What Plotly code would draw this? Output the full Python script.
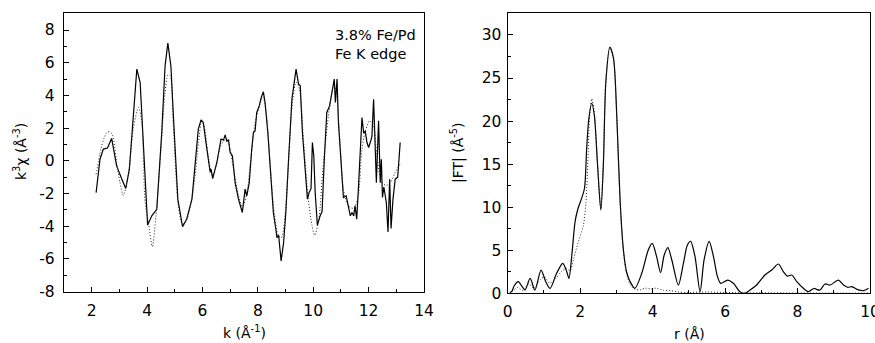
import plotly.graph_objects as go

# ---- k-space EXAFS: experiment (solid) and fit (dotted) ----
k_exp = [2.16, 2.30, 2.42, 2.57, 2.72, 2.90, 3.09, 3.23, 3.36, 3.50, 3.63, 3.75, 3.87, 4.02, 4.17,
         4.35, 4.53, 4.65, 4.75, 4.86, 4.95, 5.11, 5.28, 5.43, 5.62, 5.75, 5.85, 5.95, 6.03, 6.16,
         6.28, 6.31, 6.37, 6.52, 6.67, 6.76, 6.82, 6.88, 6.94, 7.00, 7.08, 7.18, 7.30, 7.44, 7.54,
         7.60, 7.69, 7.78, 7.84, 7.90, 7.96, 8.05, 8.12, 8.20, 8.26, 8.36, 8.48, 8.56, 8.65, 8.69,
         8.75, 8.84, 8.93, 9.01, 9.11, 9.23, 9.33, 9.38, 9.47, 9.53, 9.61, 9.71, 9.79, 9.85, 9.92,
         9.97, 10.02, 10.07, 10.15, 10.25, 10.32, 10.40, 10.49, 10.59, 10.68, 10.76, 10.80, 10.86,
         10.91, 11.00, 11.09, 11.19, 11.24, 11.34, 11.40, 11.46, 11.51, 11.57, 11.63, 11.70, 11.76,
         11.82, 11.88, 11.94, 12.00, 12.06, 12.12, 12.18, 12.22, 12.28, 12.36, 12.42, 12.46, 12.50,
         12.55, 12.64, 12.70, 12.76, 12.81, 12.88, 12.96, 13.05, 13.08, 13.14]
chi_exp = [-1.94, 0.10, 0.72, 0.78, 1.37, -0.31, -1.12, -1.69, -0.51, 2.75, 5.61, 4.79, 0.72, -3.93, -3.36,
           -2.96, 1.73, 5.81, 7.20, 5.81, 2.75, -2.34, -4.02, -3.57, -2.34, 0.00, 1.94, 2.51, 2.34, 0.72,
           -0.71, -0.51, -1.08, -0.10, 1.33, 1.27, 1.59, 1.20, 1.30, 0.51, 0.31, -1.33, -2.34, -3.16, -1.73,
           -2.14, -1.33, 0.72, 1.73, 1.83, 2.96, 3.36, 3.87, 4.22, 3.57, 1.73, -0.92, -3.16, -4.18, -4.69,
           -4.55, -6.12, -5.00, -3.16, 0.10, 3.77, 5.00, 5.61, 4.69, 4.60, 1.73, -0.31, -2.34, -1.94, -1.70,
           1.12, 0.31, -1.94, -3.93, -3.36, -3.10, 0.10, 2.96, 3.36, 4.18, 5.00, 3.57, 5.00,
           2.34, 0.31, -2.24, -2.14, -2.50, -3.36, -3.16, -3.36, -2.75, -3.57, -1.73, 0.72, 2.65,
           1.73, 1.80, 1.12, 0.82, 1.12, 1.50, 3.77, 1.94, -1.33, 2.45, -1.33, 0.10, -2.24,
           -1.60, -2.55, -4.35, -1.12, -4.14, -2.34, -1.12, -1.00, -0.31, 1.12]

k_fit = [2.16, 2.33, 2.45, 2.57, 2.72, 2.90, 3.02, 3.14, 3.32, 3.50, 3.69, 3.81, 3.93, 4.05, 4.19, 4.32,
         4.47, 4.65, 4.75, 4.83, 4.95, 5.13, 5.28, 5.43, 5.67, 5.86, 5.97, 6.05, 6.20, 6.35, 6.50, 6.65,
         6.80, 6.95, 7.10, 7.30, 7.45, 7.60, 7.75, 7.90, 8.05, 8.18, 8.30, 8.45, 8.60, 8.75, 8.85, 9.00,
         9.12, 9.25, 9.38, 9.50, 9.65, 9.80, 9.95, 10.05, 10.20, 10.35, 10.55, 10.74, 10.82, 10.97, 11.09,
         11.27, 11.46, 11.62, 11.76, 11.88, 12.04, 12.18, 12.30, 12.48, 12.64, 12.80, 12.96, 13.14]
chi_fit = [-0.82, 0.72, 1.40, 1.77, 1.69, -0.10, -1.30, -2.10, -0.92, 1.94, 3.26, 2.34, -2.55, -3.77, -5.24, -3.36,
           -0.10, 4.18, 5.24, 5.20, 2.14, -2.75, -3.87, -3.60, -1.73, 1.12, 2.40, 2.20, 0.40, -0.90, -0.30, 0.90,
           1.25, 1.00, -0.30, -2.10, -2.80, -2.00, 0.20, 2.30, 3.30, 3.90, 3.00, -0.30, -3.30, -4.60, -4.70, -3.00,
           0.30, 3.60, 4.80, 4.40, 1.20, -2.00, -3.90, -4.55, -3.60, -0.50, 2.75, 4.60, 4.30, 1.12, -1.73,
           -2.75, -2.90, -2.20, 0.70, 1.80, 2.45, 2.10, 0.30, -1.33, -1.50, -1.30, -0.70, -0.20]

# ---- Fourier transform magnitude: experiment (solid) and fit (dotted) ----
r_exp = [0.06, 0.11, 0.18, 0.29, 0.40, 0.48, 0.62, 0.75, 0.92, 1.05, 1.17, 1.35, 1.52, 1.63, 1.69, 1.77,
         1.86, 1.93, 2.04, 2.12, 2.18, 2.24, 2.32, 2.39, 2.48, 2.57, 2.64, 2.71, 2.82, 2.92, 3.01, 3.10,
         3.19, 3.28, 3.38, 3.51, 3.70, 3.88, 3.99, 4.11, 4.22, 4.32, 4.42, 4.53, 4.71, 4.85, 4.96, 5.05,
         5.17, 5.31, 5.42, 5.56, 5.68, 5.79, 5.88, 6.07, 6.23, 6.41, 6.55, 6.69, 6.87, 7.10, 7.29, 7.47,
         7.61, 7.72, 7.84, 7.98, 8.16, 8.30, 8.46, 8.53, 8.62, 8.76, 8.90, 9.13, 9.27, 9.38, 9.50, 9.64,
         9.82, 9.96]
ft_exp = [0.10, 0.19, 0.88, 1.35, 0.77, 0.38, 1.74, 0.38, 2.70, 1.35, 0.58, 2.32, 3.48, 2.51, 1.74, 4.45,
          8.32, 9.67, 11.03, 12.20, 16.84, 20.30, 22.07, 20.70, 14.90, 9.67, 14.90, 24.60, 28.60, 27.30, 20.70, 11.00,
          5.20, 2.50, 1.35, 0.58, 2.32, 5.03, 5.80, 4.25, 2.40, 4.45, 5.30, 3.87, 0.96, 3.48, 5.60, 6.04,
          4.25, 0.19, 3.87, 6.04, 4.25, 1.93, 1.16, 1.54, 1.16, 0.19, 0.00, 0.38, 0.96, 2.12, 2.70, 3.40,
          2.50, 2.00, 2.12, 1.35, 0.58, 0.19, 0.58, 0.45, 0.38, 1.08, 0.96, 1.54, 0.96, 0.70, 0.77, 0.46,
          0.30, 0.58]

r_fit = [0.06, 0.15, 0.28, 0.42, 0.58, 0.72, 0.90, 1.02, 1.15, 1.32, 1.48, 1.62, 1.72, 1.82, 1.95, 2.09,
         2.16, 2.22, 2.26, 2.32, 2.39, 2.48, 2.57, 2.64, 2.71, 2.82, 2.92, 3.01, 3.10, 3.19, 3.28, 3.38,
         3.50, 3.65, 3.80, 3.95, 4.10, 4.30, 4.50, 4.70, 5.00, 5.50, 6.00, 6.50, 7.00, 8.00, 9.00, 10.00]
ft_fit = [0.05, 0.30, 0.70, 0.30, 1.10, 0.60, 1.60, 1.90, 1.20, 1.70, 2.50, 2.90, 2.60, 4.00, 6.00, 7.90,
          10.60, 16.00, 20.50, 22.60, 21.00, 15.00, 9.80, 15.20, 24.80, 28.50, 27.20, 20.50, 10.80, 5.00, 2.30, 1.00,
          0.50, 0.40, 0.60, 0.50, 0.60, 0.35, 0.30, 0.15, 0.10, 0.15, 0.10, 0.05, 0.05, 0.03, 0.02, 0.02]

# tick positions and their printed labels
k_ticks = [2, 4, 6, 8, 10, 12, 14]
chi_ticks = [-8, -6, -4, -2, 0, 2, 4, 6, 8]
r_ticks = [0, 2, 4, 6, 8, 10]
ft_ticks = [0, 5, 10, 15, 20, 25, 30]

FONT = "DejaVu Sans, Verdana, sans-serif"
W, H = 875, 343

DOT = "1px,2px"

fig = go.Figure()
fig.add_trace(go.Scatter(x=k_exp, y=chi_exp, mode="lines", line=dict(color="black", width=1.2),
                         xaxis="x", yaxis="y", showlegend=False))
fig.add_trace(go.Scatter(x=k_fit, y=chi_fit, mode="lines",
                         line=dict(color="#222", width=1, dash=DOT, shape="spline", smoothing=0.8),
                         xaxis="x", yaxis="y", showlegend=False))
fig.add_trace(go.Scatter(x=r_exp, y=ft_exp, mode="lines",
                         line=dict(color="black", width=1.2, shape="spline", smoothing=0.8),
                         xaxis="x2", yaxis="y2", showlegend=False))
fig.add_trace(go.Scatter(x=r_fit, y=ft_fit, mode="lines",
                         line=dict(color="#222", width=1, dash=DOT, shape="spline", smoothing=0.8),
                         xaxis="x2", yaxis="y2", showlegend=False))


def px_x(p):
    return p / W


def px_y(p):
    return 1 - p / H


def labels(vals):
    return [str(v) for v in vals]  # plain hyphen for negatives


axis_common = dict(showline=True, mirror=True, linecolor="black", linewidth=1.4, showgrid=False,
                   zeroline=False, ticks="inside", ticklen=5, tickwidth=1, tickcolor="black",
                   tickfont=dict(family=FONT, size=15.5, color="black"), automargin=False,
                   ticklabeloverflow="allow")

minor = dict(ticks="inside", ticklen=3, tickcolor="black")

fig.update_layout(
    width=W, height=H, margin=dict(l=0, r=0, t=0, b=0),
    paper_bgcolor="white", plot_bgcolor="white",
    xaxis=dict(domain=[px_x(64), px_x(424)], range=[1, 14], tickvals=k_ticks, ticktext=labels(k_ticks),
               minor=dict(dtick=1, tick0=1, **minor), anchor="y", ticklabelstandoff=4, **axis_common),
    yaxis=dict(domain=[px_y(291.7), px_y(13)], range=[-8, 9.04], tickvals=chi_ticks, ticktext=labels(chi_ticks),
               minor=dict(dtick=1, tick0=-8, **minor), anchor="x", ticklabelstandoff=5, **axis_common),
    xaxis2=dict(domain=[px_x(507.7), px_x(870)], range=[0, 10], tickvals=r_ticks, ticktext=labels(r_ticks),
                minor=dict(dtick=1, tick0=0, **minor), anchor="y2", ticklabelstandoff=4, **axis_common),
    yaxis2=dict(domain=[px_y(293.3), px_y(13)], range=[0, 32.55], tickvals=ft_ticks, ticktext=labels(ft_ticks),
                minor=dict(dtick=2.5, tick0=0, **minor), anchor="x2", ticklabelstandoff=2, **axis_common),
)

ann_font = dict(family=FONT, size=14, color="black")
annotations = [
    dict(text="k<sup>3</sup>χ (Å<sup>-3</sup>)", x=px_x(20), y=px_y(152), textangle=-90),
    dict(text="k (Å<sup>-1</sup>)", x=px_x(244), y=px_y(332)),
    dict(text="|FT| (Å<sup>-5</sup>)", x=px_x(457), y=px_y(152), textangle=-90),
    dict(text="r (Å)", x=px_x(689), y=px_y(334)),
    dict(text="3.8% Fe/Pd<br>Fe K edge", x=px_x(333), y=px_y(44), xanchor="left", align="left",
         font=dict(family=FONT, size=14.5, color="black")),
]
for a in annotations:
    a.setdefault("font", ann_font)
    a.update(xref="paper", yref="paper", showarrow=False)
    a.setdefault("xanchor", "center")
    a.setdefault("yanchor", "middle")
    fig.add_annotation(**a)

fig.write_html("out.html")
